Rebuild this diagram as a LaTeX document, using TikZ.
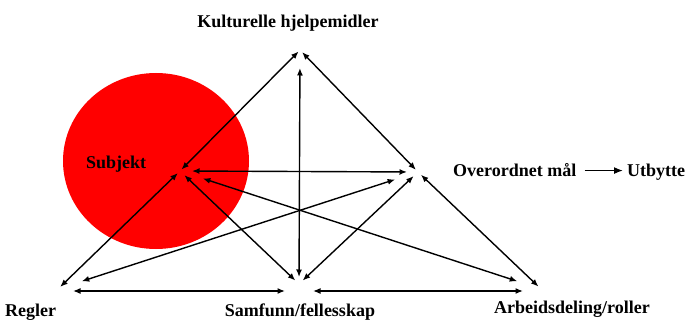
\documentclass[tikz,border=0pt]{standalone}
\usepackage{fontspec}
\setmainfont{Liberation Serif}
\usetikzlibrary{arrows.meta}
\begin{document}
\begin{tikzpicture}[x=1pt,y=-1pt,
  arr/.style={line width=1.4pt,{Latex[length=7.5pt,width=6pt]}-{Latex[length=7.5pt,width=6pt]}},
  lbl/.style={font=\fontsize{18}{20}\selectfont\bfseries,inner sep=0pt}]
\useasboundingbox (0,0) rectangle (692,320);
\fill[red] (156,161) ellipse [x radius=93, y radius=88];
% vertices
\coordinate (T) at (300,50);
\coordinate (S) at (180,171);
\coordinate (O) at (418,172);
\coordinate (R) at (58,289);
\coordinate (C) at (299,284);
\coordinate (A) at (541,289);
% labels
\node[lbl,anchor=base] (lT) at (288,28) {Kulturelle hjelpemidler};
\node[lbl,anchor=base west] (lS) at (86,169) {Subjekt};
\node[lbl,anchor=base west] (lO) at (453,177) {Overordnet mål};
\node[lbl,anchor=base west] (lU) at (627,177) {Utbytte};
\node[lbl,anchor=base west] (lR) at (5,316) {Regler};
\node[lbl,anchor=base] (lC) at (300,316) {Samfunn/fellesskap};
\node[lbl,anchor=base] (lA) at (572,313) {Arbeidsdeling/roller};
\draw[line width=1.4pt,-{Latex[length=9pt,width=7pt]}] (lO.east) ++(8,0) coordinate (u1) -- ([xshift=-4pt]lU.west |- u1);
% connectors
\draw[arr,shorten <=2pt,shorten >=2pt] (S) -- (T);
\draw[arr,shorten <=3pt,shorten >=3pt] (T) -- (O);
\draw[arr,shorten <=18pt,shorten >=7pt] (T) -- (C);
\draw[arr,shorten <=12pt,shorten >=11pt] (S) -- (O);
\draw[arr,shorten <=24pt,shorten >=25pt] (S) -- (A);
\draw[arr,shorten <=3pt,shorten >=3pt] (R) -- (S);
\draw[arr,shorten <=25pt,shorten >=24pt] (R) -- (O);
\draw[arr,shorten <=6pt,shorten >=5pt] (S) -- (C);
\draw[arr,shorten <=5pt,shorten >=6pt] (C) -- (O);
\draw[arr,shorten <=4pt,shorten >=3.5pt] (O) -- (A);
\draw[arr,shorten <=15pt,shorten >=14pt] ([yshift=-2pt]R) -- ([yshift=-7pt]C);
\draw[arr,shorten <=14pt,shorten >=18pt] ([yshift=-7pt]C) -- ([yshift=-2pt]A);
\end{tikzpicture}
\end{document}
